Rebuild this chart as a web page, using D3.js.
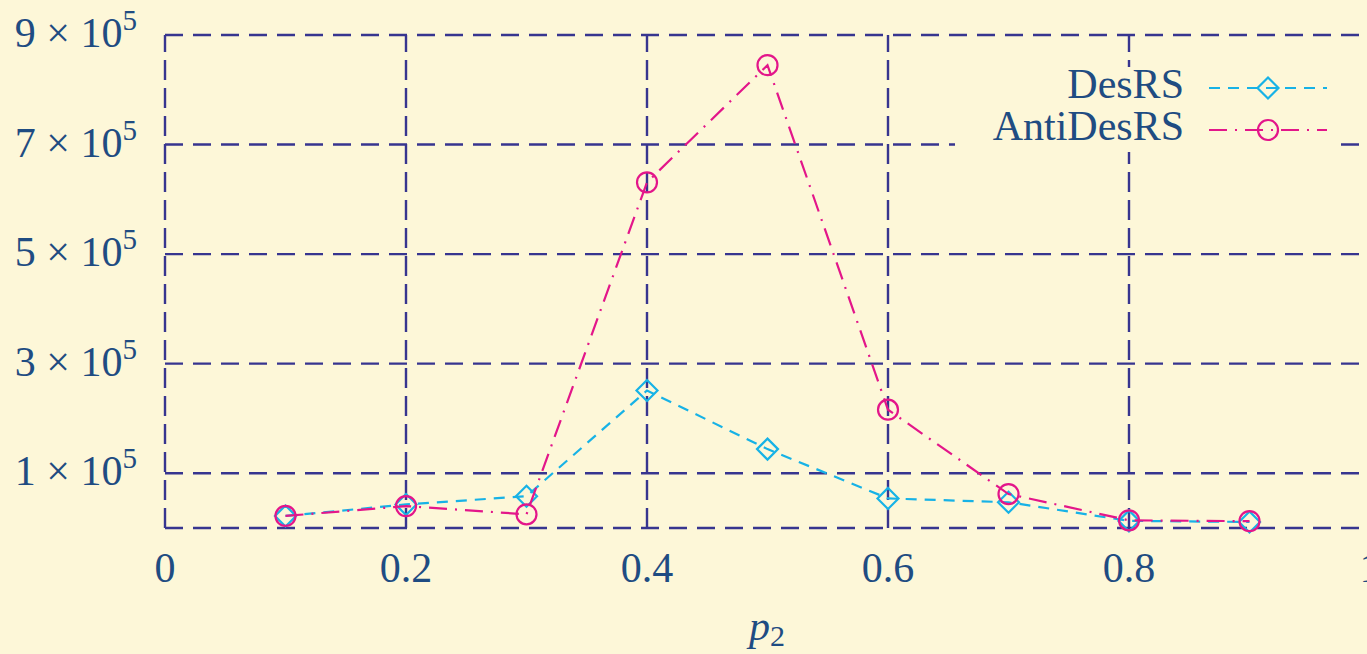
<!DOCTYPE html>
<html>
<head>
<meta charset="utf-8">
<script src="https://cdn.jsdelivr.net/npm/d3@7"></script>
<style>
  html, body { margin: 0; padding: 0; background: #fdf7d8; }
  svg { display: block; }
  text { font-family: "Liberation Serif", "DejaVu Serif", serif; fill: #1f4c82; }
</style>
</head>
<body>
<svg id="chart" width="1367" height="654"></svg>
<script>
const xValues = [0.1, 0.2, 0.3, 0.4, 0.5, 0.6, 0.7, 0.8, 0.9];
const desRS = [22000, 43000, 58000, 251000, 144000, 54000, 47000, 13000, 11000];
const antiDesRS = [22000, 40000, 25000, 631000, 845000, 216000, 62000, 14000, 12500];
const xTicks = [0, 0.2, 0.4, 0.6, 0.8, 1];
const xTickLabels = ["0", "0.2", "0.4", "0.6", "0.8", "1"];
const yTicks = [100000, 300000, 500000, 700000, 900000];
const yTickMantissa = ["1", "3", "5", "7", "9"];
const yTickExponent = ["5", "5", "5", "5", "5"];
const seriesNames = ["DesRS", "AntiDesRS"];

const W = 1367, H = 654;
const svg = d3.select("#chart");
svg.append("rect").attr("width", W).attr("height", H).attr("fill", "#fdf7d8");

const x = d3.scaleLinear().domain([0, 1]).range([165, 1370]);
const y = d3.scaleLinear().domain([0, 900000]).range([528, 35]);

const gridColor = "#37358f";
const grid = svg.append("g");
[0].concat(yTicks).forEach(v => {
  grid.append("line")
    .attr("x1", x(0)).attr("x2", x(1))
    .attr("y1", y(v)).attr("y2", y(v))
    .attr("stroke", gridColor).attr("stroke-width", 2.4)
    .attr("stroke-dasharray", "18 10");
});
xTicks.forEach(v => {
  grid.append("line")
    .attr("x1", x(v)).attr("x2", x(v))
    .attr("y1", y(0)).attr("y2", y(900000))
    .attr("stroke", gridColor).attr("stroke-width", 2.4)
    .attr("stroke-dasharray", "20 8");
});

const fs = 42;
const xl = svg.append("g");
xTicks.forEach((v, i) => {
  xl.append("text")
    .attr("x", x(v)).attr("y", 582)
    .attr("text-anchor", "middle")
    .attr("font-size", fs)
    .text(xTickLabels[i]);
});
const yl = svg.append("g");
yTicks.forEach((v, i) => {
  const t = yl.append("text")
    .attr("x", 137).attr("y", y(v) + 12)
    .attr("text-anchor", "end")
    .attr("font-size", fs);
  t.append("tspan").text(yTickMantissa[i] + " \u00D7 10");
  t.append("tspan").attr("font-size", 29).attr("dy", -17).text(yTickExponent[i]);
});

const xt = svg.append("text")
  .attr("x", 767).attr("y", 640)
  .attr("text-anchor", "middle")
  .attr("font-size", fs);
xt.append("tspan").attr("font-style", "italic").text("p");
xt.append("tspan").attr("font-size", 30).attr("dy", 6).text("2");

const colors = ["#17b2e6", "#e3168a"];
const dashes = ["11 8", "18 8 2 8"];
const datasets = [desRS, antiDesRS];
const line = d3.line().x(d => x(d[0])).y(d => y(d[1]));

function drawMarker(g, kind, cx, cy, color) {
  if (kind === 0) {
    const r = 10.5;
    g.append("path")
      .attr("d", `M${cx},${cy - r}L${cx + r},${cy}L${cx},${cy + r}L${cx - r},${cy}Z`)
      .attr("fill", "none").attr("stroke", color).attr("stroke-width", 2.2);
  } else {
    g.append("circle").attr("cx", cx).attr("cy", cy).attr("r", 10)
      .attr("fill", "none").attr("stroke", color).attr("stroke-width", 2.2);
  }
}

datasets.forEach((vals, si) => {
  const pts = xValues.map((xv, i) => [xv, vals[i]]);
  const g = svg.append("g");
  g.append("path").datum(pts)
    .attr("d", line)
    .attr("fill", "none")
    .attr("stroke", colors[si]).attr("stroke-width", 2.2)
    .attr("stroke-dasharray", dashes[si]);
  pts.forEach(p => drawMarker(g, si, x(p[0]), y(p[1]), colors[si]));
});

const lg = svg.append("g");
lg.append("rect").attr("x", 955).attr("y", 67).attr("width", 382).attr("height", 85)
  .attr("fill", "#fdf7d8");
const legY = [88, 130];
seriesNames.forEach((name, si) => {
  lg.append("text").attr("x", 1184).attr("y", legY[si] + 10)
    .attr("text-anchor", "end").attr("font-size", fs).text(name);
  lg.append("line").attr("x1", 1209).attr("x2", 1327)
    .attr("y1", legY[si]).attr("y2", legY[si])
    .attr("stroke", colors[si]).attr("stroke-width", 2.2)
    .attr("stroke-dasharray", dashes[si]);
  drawMarker(lg, si, 1268, legY[si], colors[si]);
});
</script>
</body>
</html>
